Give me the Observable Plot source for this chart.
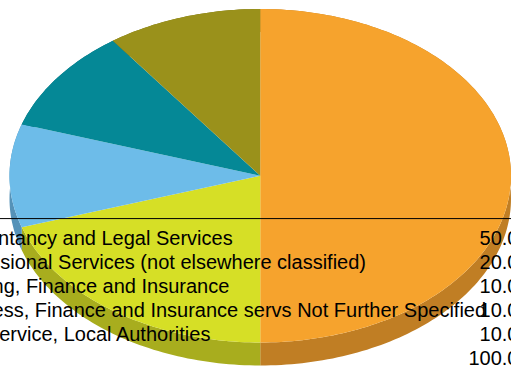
<!DOCTYPE html>
<html><head><meta charset="utf-8">
<script src="https://cdn.jsdelivr.net/npm/d3@7"></script>
<script src="https://cdn.jsdelivr.net/npm/@observablehq/plot@0.6"></script>
<style>
html,body{margin:0;padding:0;background:#fff;overflow:hidden}
#c{position:relative;width:511px;height:366px}
#c svg{position:absolute;left:0;top:0;background:transparent}
</style></head><body><div id="c"></div>
<script>
const categories = ["Accountancy and Legal Services","Professional Services (not elsewhere classified)","Banking, Finance and Insurance","Business, Finance and Insurance servs Not Further Specified","Civil Service, Local Authorities"];
const values = [50,20,10,10,10];
const valueLabels = ["50.0","20.0","10.0","10.0","10.0"];
const totalLabel = "100.0";
const topColors = ["#f6a32d","#d6df26","#6dbce9","#058896","#9a911b"];
const sideColors = ["#c07e24","#a8ad1e","#5592b8","#046a75","#787115"];
const depth = 0.138;

const total = d3.sum(values);
const slices = []; let acc = 0;
values.forEach((v,i)=>{
  const a0 = acc/total*2*Math.PI, a1 = (acc+v)/total*2*Math.PI; acc += v;
  const n = Math.max(2, Math.ceil(v*3));
  for (let k=0;k<=n;k++){
    const a = a0+(a1-a0)*k/n;
    slices.push({i, sx:Math.sin(a), sy:Math.cos(a), top:topColors[i], side:sideColors[i]});
  }
});
const pie = Plot.plot({
  width:511,height:366,margin:0,
  x:{domain:[-1,1],range:[9.5,511],axis:null},
  y:{domain:[-1,1],range:[342.5,9],axis:null},
  color:{type:"identity"},
  marks:[
    Plot.area(slices,{x1:"sx",x2:"sx",y1:"sy",y2:d=>d.sy-depth,z:"i",fill:"side"}),
    Plot.area(slices,{x1:0,y1:0,x2:"sx",y2:"sy",z:"i",fill:"top"})
  ]
});
const rows = categories.map((c,i)=>({row:i,label:c,value:valueLabels[i]}));
rows.push({row:categories.length,label:"",value:totalLabel});
const table = Plot.plot({
  width:511,height:366,margin:0,
  style:{fontFamily:"'Liberation Sans',Arial,sans-serif",background:"transparent"},
  x:{domain:[0,511],range:[0,511],axis:null},
  y:{domain:[0,5],range:[238,358],axis:null},
  marks:[
    Plot.ruleY([-0.83],{stroke:"#000",strokeWidth:1}),
    Plot.text(rows,{x:()=>-58,y:"row",text:"label",textAnchor:"start",fontSize:20,fill:"#000"}),
    Plot.text(rows,{x:()=>518,y:"row",text:"value",textAnchor:"end",fontSize:20,fill:"#000"})
  ]
});
document.getElementById("c").append(pie,table);
</script></body></html>
